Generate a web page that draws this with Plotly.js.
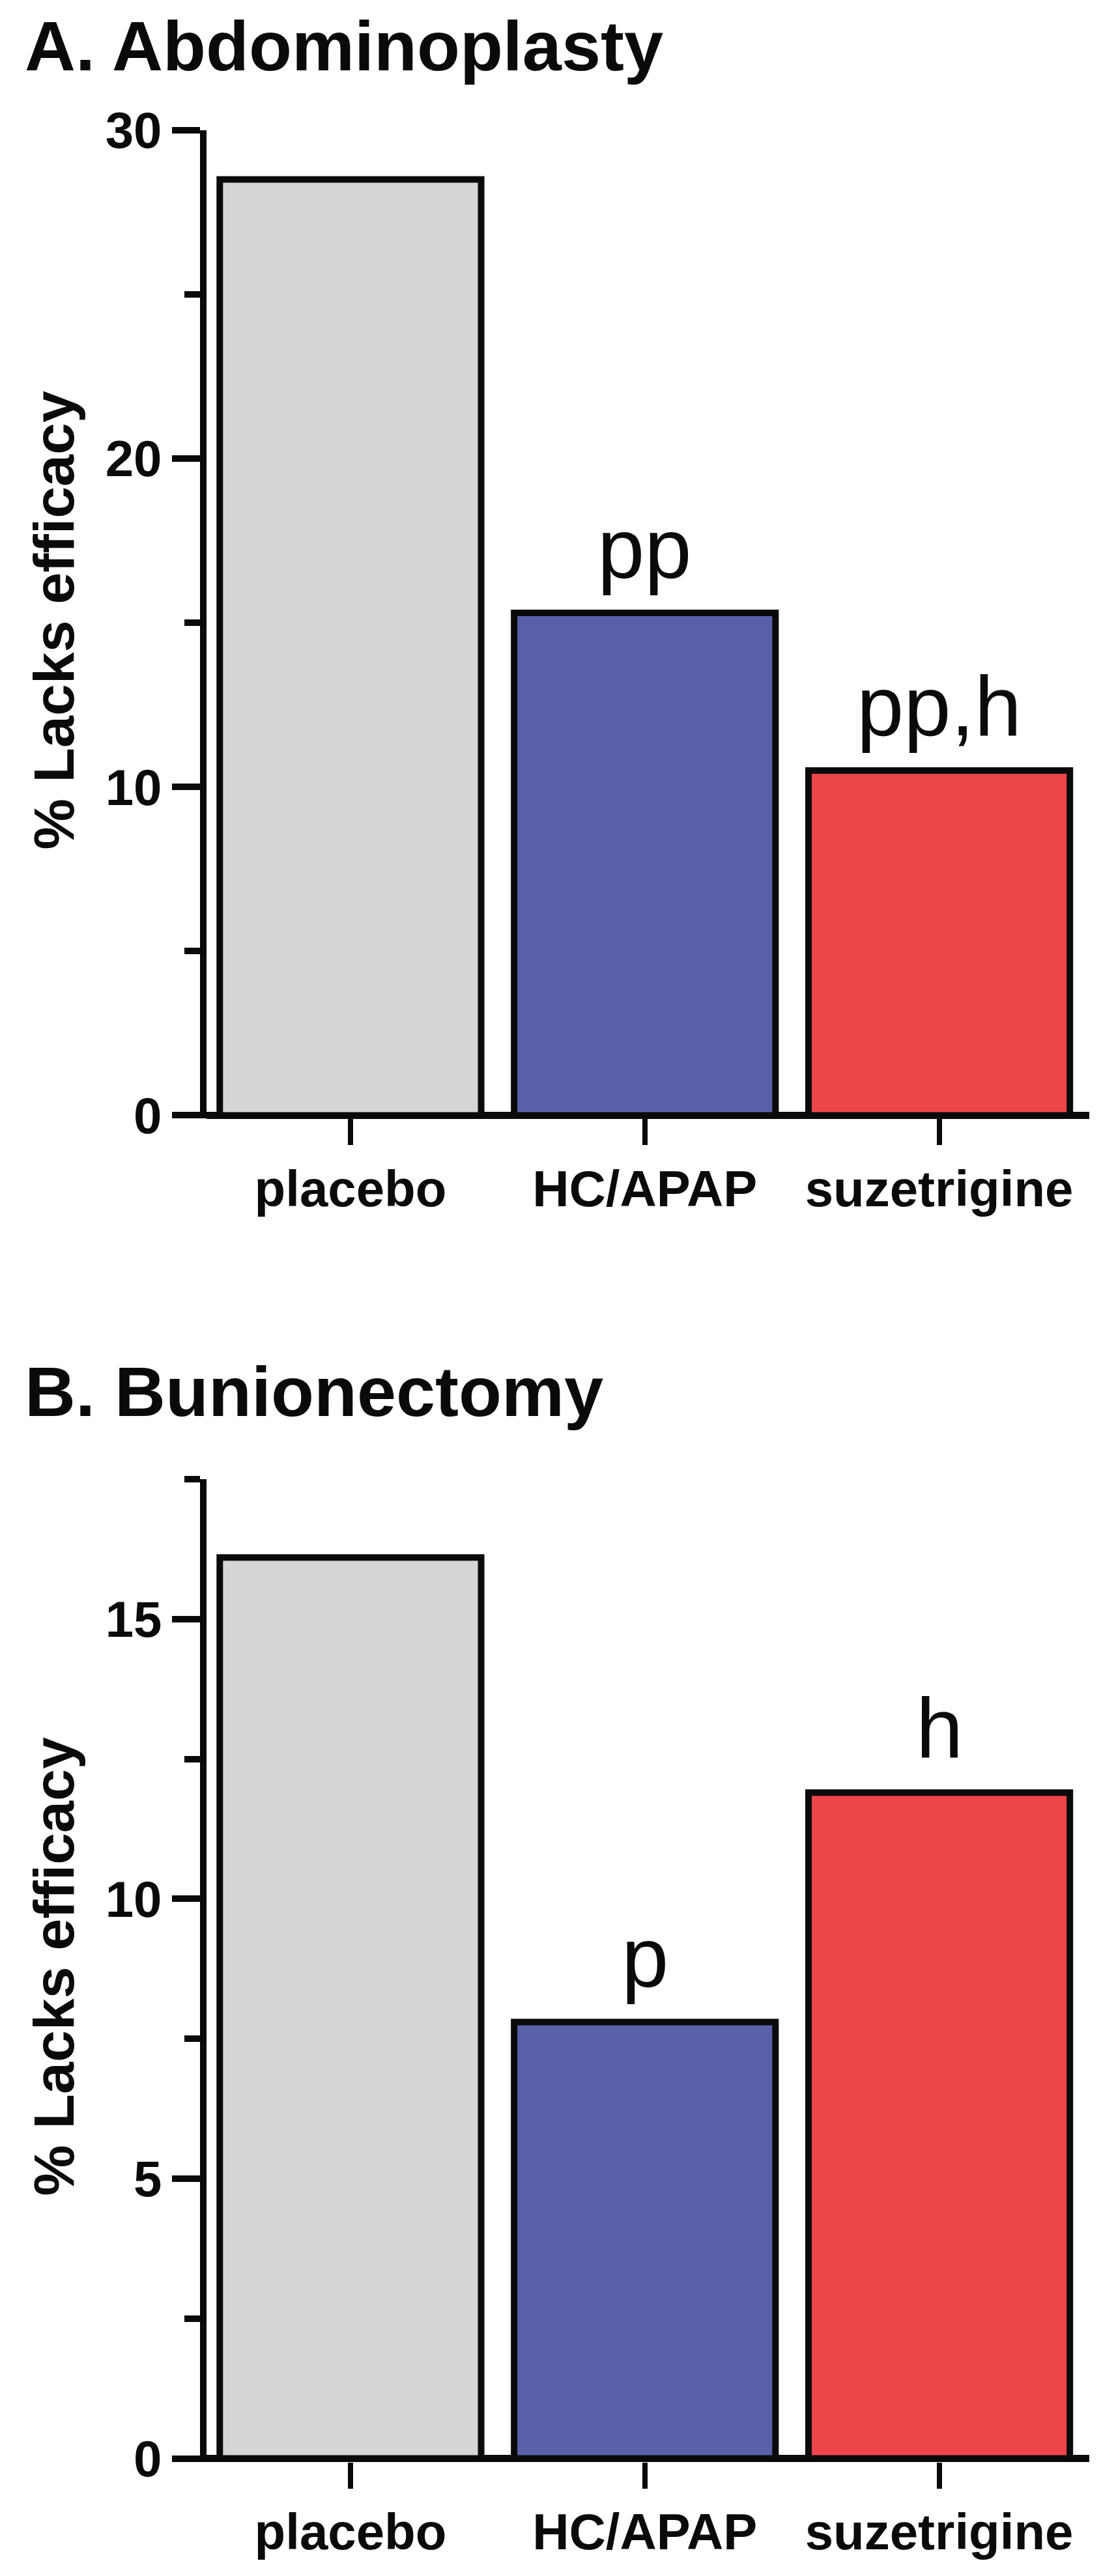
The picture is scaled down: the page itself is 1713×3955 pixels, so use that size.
<!DOCTYPE html>
<html>
<head>
<meta charset="utf-8">
<script src="https://cdn.plot.ly/plotly-3.0.1.min.js"></script>
<style>html,body{margin:0;padding:0;background:#fff;}#chart{width:1713px;height:3955px;}</style>
</head>
<body>
<div id="chart"></div>
<script>
// ---- data ----
const categories = ["placebo", "HC/APAP", "suzetrigine"];
const abdominoplastyValues = [28.5, 15.3, 10.5];
const bunionectomyValues = [16.1, 7.8, 11.9];
const abdominoplastyLabels = ["", "pp", "pp,h"];
const bunionectomyLabels = ["", "p", "h"];
const barColors = ["#D4D5D4", "#5960A9", "#EE454B"];
const panelTitles = ["A. Abdominoplasty", "B. Bunionectomy"];
const yTitle = "% Lacks efficacy";

// ---- geometry helpers ----
const W = 1713, H = 3955;
const px = v => v / W;
const py = v => 1 - v / H;
const FONT = "Liberation Sans, Arial, Helvetica, sans-serif";
const black = "#0a0a0a";

function barTrace(vals, xa, ya) {
  return {
    type: "bar", x: categories, y: vals, xaxis: xa, yaxis: ya,
    width: 0.888,
    marker: { color: barColors, line: { color: black, width: 10 } },
    hoverinfo: "skip", showlegend: false
  };
}

function xAxis(anchor) {
  return {
    domain: [px(317), px(1672)], anchor: anchor, type: "category",
    range: [-0.489, 2.51], showline: false, showgrid: false, zeroline: false,
    ticks: "outside", ticklen: 40, tickwidth: 8, tickcolor: black,
    tickfont: { family: FONT, size: 78, color: black, weight: "bold" },
    fixedrange: true
  };
}
function yAxis(anchor, top, bottom, range, dtick, minorDtick) {
  return {
    domain: [py(bottom), py(top)], anchor: anchor, range: range,
    showline: true, linewidth: 10, linecolor: black,
    showgrid: false, zeroline: true, zerolinewidth: 11, zerolinecolor: black,
    ticks: "outside", ticklen: 43, tickwidth: 10, tickcolor: black,
    dtick: dtick, tick0: 0,
    minor: { dtick: minorDtick, tick0: 0, ticks: "outside", ticklen: 24, tickwidth: 10, tickcolor: black, showgrid: false },
    tickfont: { family: FONT, size: 78, color: black, weight: "bold" },
    fixedrange: true
  };
}

const data = [
  barTrace(abdominoplastyValues, "x", "y"),
  barTrace(bunionectomyValues, "x2", "y2")
];

const annotations = [];
function sigLabels(labels, vals, xa, ya) {
  labels.forEach((t, i) => {
    if (!t) return;
    annotations.push({
      xref: xa, yref: ya, x: categories[i], y: vals[i],
      text: t, showarrow: false, xanchor: "center", yanchor: "bottom", yshift: 24,
      font: { family: FONT, size: 130, color: black }
    });
  });
}
sigLabels(abdominoplastyLabels, abdominoplastyValues, "x", "y");
sigLabels(bunionectomyLabels, bunionectomyValues, "x2", "y2");

// panel titles
[[panelTitles[0], 8], [panelTitles[1], 2074]].forEach(([t, top]) => {
  annotations.push({
    xref: "paper", yref: "paper", x: px(36), y: py(top), xanchor: "left", yanchor: "top",
    text: "<b>" + t + "</b>", showarrow: false,
    font: { family: FONT, size: 108, color: black }
  });
});
// y axis titles
[[953, 30], [3020, 30]].forEach(([cy, left]) => {
  annotations.push({
    xref: "paper", yref: "paper", x: px(left), y: py(cy), xanchor: "left", yanchor: "middle",
    text: "<b>" + yTitle + "</b>", showarrow: false, textangle: -90,
    font: { family: FONT, size: 88, color: black }
  });
});

const layout = {
  width: W, height: H,
  margin: { l: 0, r: 0, t: 0, b: 0 },
  paper_bgcolor: "#ffffff", plot_bgcolor: "#ffffff",
  xaxis: xAxis("y"),
  yaxis: yAxis("x", 200, 1717, [-0.09, 30], 10, 5),
  xaxis2: xAxis("y2"),
  yaxis2: yAxis("x2", 2271, 3779.5, [-0.058, 17.501], 5, 2.5),
  annotations: annotations,
  bargap: 0.112,
  font: { family: FONT, color: black }
};

Plotly.newPlot("chart", data, layout, { staticPlot: true, displayModeBar: false });
</script>
</body>
</html>
